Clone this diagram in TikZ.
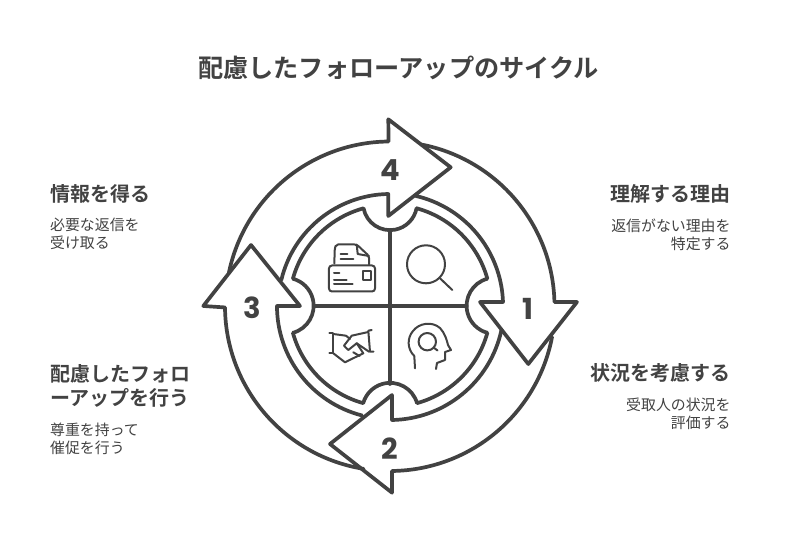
\documentclass[tikz,border=0pt]{standalone}
\usepackage{fontspec}
\setmainfont{Noto Sans CJK JP}[BoldFont={Noto Sans CJK JP Bold}]
\newfontfamily\numfont{Poppins}[BoldFont={Poppins Bold}]
\usetikzlibrary{positioning}
\definecolor{ink}{RGB}{66,66,66}
\tikzstyle{ring} = [draw=ink, line width=3.7pt, line join=round, line cap=round]
\tikzstyle{icon} = [draw=ink, line width=2pt, line join=round, line cap=round]
\tikzstyle{num} = [text=ink, font=\numfont\bfseries\fontsize{29}{29}\selectfont, inner sep=0pt]
\tikzstyle{title} = [text=ink, font=\bfseries\fontsize{25.2}{30}\selectfont, inner sep=0pt]
\tikzstyle{head} = [text=ink, font=\bfseries\fontsize{20}{24}\selectfont, inner sep=0pt]
\tikzstyle{body} = [text=ink, font=\fontsize{14.9}{18}\selectfont, inner sep=0pt]

\begin{document}
\begin{tikzpicture}[x=1pt, y=1pt, node distance=9pt]
  \useasboundingbox (-390,-234) rectangle (402,306);

  % arrows
  \draw [ring] (79:164.5) arc [start angle=79, end angle=1.4, radius=164.5pt] -- (187,4) -- (138.3,-58) -- (90,4) -- (113,4) arc [start angle=2, end angle=77, radius=113pt];
  \draw [ring] (-10.8:165) arc [start angle=-10.8, end angle=-89.3, radius=165pt] -- (2,-186.7) -- (-60,-138) -- (2,-89) -- (2,-114) arc [start angle=-89, end angle=-12.3, radius=114pt];
  \draw [ring] (260.8:165) arc [start angle=260.8, end angle=180.5, radius=165pt] -- (-186.7,0) -- (-139,61) -- (-90,0) -- (-113,0) arc [start angle=180, end angle=255.7, radius=113pt];
  \draw [ring] (168.6:164.5) arc [start angle=168.6, end angle=90.5, radius=164.5pt] -- (-1.7,186.7) -- (60.7,138.7) -- (-1.7,90) -- (-1.7,112) arc [start angle=91, end angle=166.6, radius=112pt];

  % disc with four bites
  \draw [ring] (26.7,97.7) arc [start angle=74.7, end angle=15.5, radius=101pt]
    arc [start angle=105, end angle=255, radius=28pt]
    arc [start angle=-15.5, end angle=-74.5, radius=101pt]
    arc [start angle=16, end angle=164, radius=28pt]
    arc [start angle=-105.5, end angle=-164.5, radius=101pt]
    arc [start angle=-75, end angle=75, radius=28pt]
    arc [start angle=164.5, end angle=105.3, radius=101pt]
    arc [start angle=191, end angle=349, radius=27pt] -- cycle;
  \coordinate (top) at (0,76);
  \coordinate (bottom) at (0,-78);
  \coordinate (left) at (-76,0);
  \coordinate (right) at (76.5,0);
  \draw [ring] (top) -- (bottom);
  \draw [ring] (left) -- (right);

  % numbers
  \node [num] (n1) at (138,-3) {1};
  \node [num] (n2) at (0,-143) {2};
  \node [num] (n3) at (-138,-2) {3};
  \node [num] (n4) at (0,136) {4};

  % letter icon
  \begin{scope}[shift={(-390,306)}, y=-1pt]
    \draw [icon, rounded corners=2pt] (334.3,263.5) -- (334.8,248) -- (336,244.5) -- (356.7,244.5) -- (369,256) -- (369,264.5);
    \draw [icon] (356.7,244.5) -- (357.7,254) -- (369,256);
    \draw [icon, rounded corners=3pt] (329,265.5) rectangle (375,291.5);
    \draw [icon] (362.7,271) rectangle (371.3,280);
    \draw [icon] (334,272.7) -- (339.3,272.7);
    \draw [icon] (334,280) -- (346.7,280);
    \draw [icon] (334,284.5) -- (352.7,284.5);
    \draw [icon] (340.7,254.3) -- (347.3,254.3);
    \draw [icon] (340.7,259) -- (353.3,259);

    % magnifier
    \draw [icon] (426,264.3) circle (19pt);
    \draw [icon] (440,278.3) -- (452.3,290);

    % handshake
    \draw [icon] (329.3,333.3) -- (333.3,333.3) -- (333.3,353.3) -- (329.3,353.3);
    \draw [icon] (371.7,330) -- (368.3,330.7) -- (370,351.7) -- (373.5,351.7);
    \draw [icon] (333.3,334) -- (346,335.7) -- (350,339);
    \draw [icon] (368.3,332) -- (351.7,335.7) -- (344,345.7) -- (348.3,350) -- (356.7,343.3) -- (363.3,353.3) -- (345,362.3) -- (333.3,353.3);
    \draw [icon] (356.7,343.3) -- (369,351.7);
    \draw [icon] (353.3,352.3) -- (359.5,356);

    % head
    \draw [icon] (415,368.3) -- (414.3,356) .. controls (407,349) and (407,338) .. (413,331) .. controls (419,323) and (432,321) .. (440,328) .. controls (445,333) and (447,341) .. (448,345) -- (451,350) -- (445,352) -- (445,360) -- (437,363) -- (436,369);
    \draw [icon] (427.3,341.7) circle (8.7pt);
    \draw [icon] (433.5,347.5) -- (437.5,350.5);
  \end{scope}

  % texts
  \node [title] (title) at (8.5,238.5) {配慮したフォローアップのサイクル};

  \node [head, anchor=north west] (get) at (-340,122) {情報を得る};
  \node [body, align=left, below=15pt of get.south west, anchor=north west] (getbody) {必要な返信を\\受け取る};

  \node [head, anchor=north east] (why) at (340.7,122) {理解する理由};
  \node [body, align=right, below=15pt of why.south east, anchor=north east] (whybody) {返信がない理由を\\特定する};

  \node [head, anchor=north west, align=left] (follow) at (-340,-58) {配慮したフォロ\\ーアップを行う};
  \node [body, align=left, below=15pt of follow.south west, anchor=north west] (followbody) {尊重を持って\\催促を行う};

  \node [head, anchor=north east] (state) at (340.7,-57.5) {状況を考慮する};
  \node [body, align=right, below=14.5pt of state.south east, anchor=north east] (statebody) {受取人の状況を\\評価する};
\end{tikzpicture}
\end{document}
